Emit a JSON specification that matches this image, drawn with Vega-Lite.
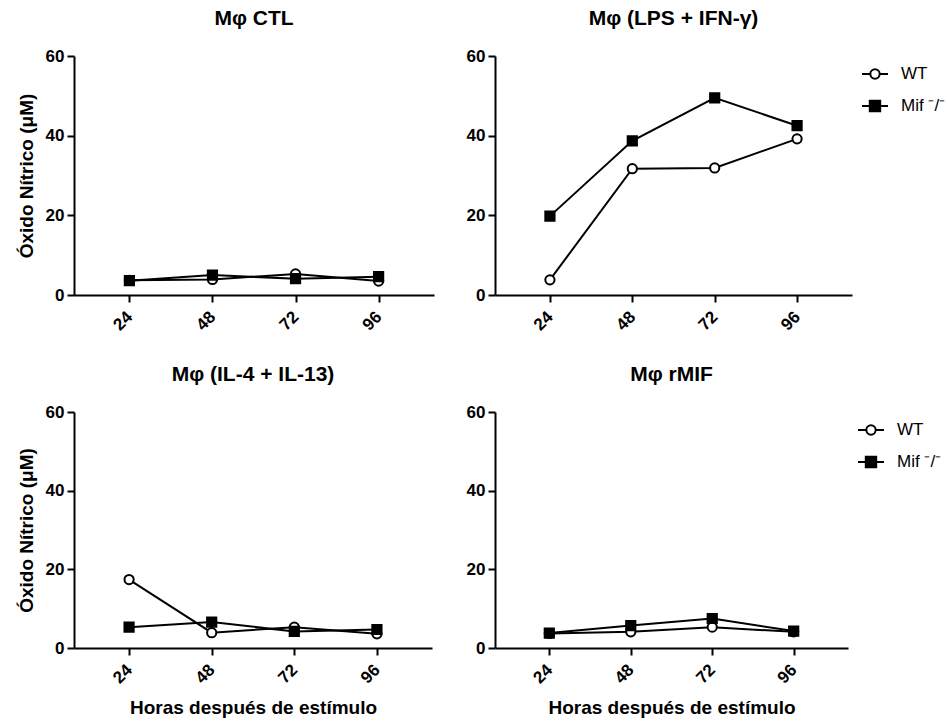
{
  "$schema": "https://vega.github.io/schema/vega-lite/v6.json",
  "padding": {"left": 17, "top": 8, "right": 5, "bottom": 5},
  "background": "white",
  "datasets": {
    "no": [
      {"panel": "CTL", "group": "WT", "hours": 24, "no": 3.7},
      {"panel": "CTL", "group": "WT", "hours": 48, "no": 3.9},
      {"panel": "CTL", "group": "WT", "hours": 72, "no": 5.3},
      {"panel": "CTL", "group": "WT", "hours": 96, "no": 3.5},
      {"panel": "CTL", "group": "Mif", "hours": 24, "no": 3.6},
      {"panel": "CTL", "group": "Mif", "hours": 48, "no": 5.0},
      {"panel": "CTL", "group": "Mif", "hours": 72, "no": 4.1},
      {"panel": "CTL", "group": "Mif", "hours": 96, "no": 4.6},
      {"panel": "LPS", "group": "WT", "hours": 24, "no": 3.8},
      {"panel": "LPS", "group": "WT", "hours": 48, "no": 31.7},
      {"panel": "LPS", "group": "WT", "hours": 72, "no": 31.9},
      {"panel": "LPS", "group": "WT", "hours": 96, "no": 39.2},
      {"panel": "LPS", "group": "Mif", "hours": 24, "no": 19.8},
      {"panel": "LPS", "group": "Mif", "hours": 48, "no": 38.7},
      {"panel": "LPS", "group": "Mif", "hours": 72, "no": 49.5},
      {"panel": "LPS", "group": "Mif", "hours": 96, "no": 42.5},
      {"panel": "IL4", "group": "WT", "hours": 24, "no": 17.4},
      {"panel": "IL4", "group": "WT", "hours": 48, "no": 3.9},
      {"panel": "IL4", "group": "WT", "hours": 72, "no": 5.3},
      {"panel": "IL4", "group": "WT", "hours": 96, "no": 3.6},
      {"panel": "IL4", "group": "Mif", "hours": 24, "no": 5.3},
      {"panel": "IL4", "group": "Mif", "hours": 48, "no": 6.6},
      {"panel": "IL4", "group": "Mif", "hours": 72, "no": 4.2},
      {"panel": "IL4", "group": "Mif", "hours": 96, "no": 4.7},
      {"panel": "rMIF", "group": "WT", "hours": 24, "no": 3.7},
      {"panel": "rMIF", "group": "WT", "hours": 48, "no": 4.1},
      {"panel": "rMIF", "group": "WT", "hours": 72, "no": 5.3},
      {"panel": "rMIF", "group": "WT", "hours": 96, "no": 4.1},
      {"panel": "rMIF", "group": "Mif", "hours": 24, "no": 3.8},
      {"panel": "rMIF", "group": "Mif", "hours": 48, "no": 5.7},
      {"panel": "rMIF", "group": "Mif", "hours": 72, "no": 7.5},
      {"panel": "rMIF", "group": "Mif", "hours": 96, "no": 4.3}
    ]
  },
  "data": {"name": "no"},
  "columns": 2,
  "spacing": {"row": 30, "column": 32},
  "resolve": {
    "scale": {"shape": "independent", "fill": "independent"},
    "legend": {"shape": "independent", "fill": "independent"}
  },
  "concat": [
    {
      "width": 360, "height": 239,
      "title": "Mφ CTL",
      "transform": [{"filter": "datum.panel == 'CTL'"}],
      "layer": [
        {
          "mark": {"type": "line", "color": "black", "strokeWidth": 2},
          "encoding": {
            "x": {"field": "hours", "type": "quantitative", "scale": {"domain": [8, 112], "nice": false}, "axis": {"values": [24, 48, 72, 96], "labelAngle": -45, "labelBaseline": "middle", "labelPadding": 12, "title": null}},
            "y": {"field": "no", "type": "quantitative", "scale": {"domain": [0, 60], "nice": false}, "axis": {"values": [0, 20, 40, 60], "title": "Óxido Nítrico (μM)"}},
            "detail": {"field": "group"}
          }
        },
        {
          "mark": {"type": "point", "filled": true, "stroke": "black", "strokeWidth": 2, "opacity": 1, "size": 85},
          "encoding": {
            "x": {"field": "hours", "type": "quantitative"},
            "y": {"field": "no", "type": "quantitative"},
            "shape": {"field": "group", "type": "nominal", "scale": {"domain": ["Mif", "WT"], "range": ["square", "circle"]}, "legend": null},
            "fill": {"field": "group", "type": "nominal", "scale": {"domain": ["Mif", "WT"], "range": ["black", "white"]}, "legend": null}
          }
        }
      ]
    },
    {
      "width": 357, "height": 239,
      "title": "Mφ (LPS + IFN-γ)",
      "transform": [{"filter": "datum.panel == 'LPS'"}],
      "resolve": {"scale": {"shape": "independent", "fill": "independent"}},
      "layer": [
        {
          "mark": {"type": "line", "color": "black", "strokeWidth": 2},
          "encoding": {
            "x": {"field": "hours", "type": "quantitative", "scale": {"domain": [8, 112], "nice": false}, "axis": {"values": [24, 48, 72, 96], "labelAngle": -45, "labelBaseline": "middle", "labelPadding": 12, "title": null}},
            "y": {"field": "no", "type": "quantitative", "scale": {"domain": [0, 60], "nice": false}, "axis": {"values": [0, 20, 40, 60], "title": null}},
            "detail": {"field": "group"}
          }
        },
        {
          "mark": {"type": "point", "filled": true, "stroke": "black", "strokeWidth": 2, "opacity": 1, "size": 85},
          "encoding": {
            "x": {"field": "hours", "type": "quantitative"},
            "y": {"field": "no", "type": "quantitative"},
            "shape": {"field": "group", "type": "nominal", "scale": {"domain": ["Mif", "WT"], "range": ["square", "circle"]}, "legend": null},
            "fill": {"field": "group", "type": "nominal", "scale": {"domain": ["Mif", "WT"], "range": ["black", "white"]}, "legend": null}
          }
        },
        {
          "mark": {"type": "point", "filled": true, "stroke": "black", "strokeWidth": 2, "opacity": 0, "size": 676},
          "encoding": {
            "x": {"field": "hours", "type": "quantitative"},
            "y": {"field": "no", "type": "quantitative"},
            "shape": {"field": "group", "type": "nominal", "scale": {"domain": ["WT", "Mif"], "range": ["M-1,0L-0.36,0M0.36,0L1,0M0.36,0A0.36,0.36,0,1,1,-0.36,0A0.36,0.36,0,1,1,0.36,0Z", "M-1,0L1,0M-0.4,-0.4L0.4,-0.4L0.4,0.4L-0.4,0.4Z"]},
              "legend": {"title": null, "orient": "right", "offset": 5, "padding": 4, "symbolSize": 676, "symbolOpacity": 1, "symbolStrokeColor": "black", "symbolStrokeWidth": 2, "labelFont": "Liberation Sans", "labelFontSize": 17, "labelColor": "black", "labelOffset": 12, "rowPadding": 9,
                "labelExpr": "datum.value == 'Mif' ? 'Mif ⁻/⁻' : 'WT'",
                "encode": {"labels": {"fontStyle": {"condition": {"test": "datum.value == 'WT'", "value": "normal"}, "value": "italic"}}}}},
            "fill": {"field": "group", "type": "nominal", "scale": {"domain": ["WT", "Mif"], "range": ["white", "black"]},
              "legend": {"title": null, "orient": "right", "offset": 5, "padding": 4, "symbolSize": 676, "symbolOpacity": 1, "symbolStrokeColor": "black", "symbolStrokeWidth": 2, "labelFont": "Liberation Sans", "labelFontSize": 17, "labelColor": "black", "labelOffset": 12, "rowPadding": 9,
                "labelExpr": "datum.value == 'Mif' ? 'Mif ⁻/⁻' : 'WT'",
                "encode": {"labels": {"fontStyle": {"condition": {"test": "datum.value == 'WT'", "value": "normal"}, "value": "italic"}}}}}
          }
        }
      ]
    },
    {
      "width": 358, "height": 236,
      "title": "Mφ (IL-4 + IL-13)",
      "transform": [{"filter": "datum.panel == 'IL4'"}],
      "layer": [
        {
          "mark": {"type": "line", "color": "black", "strokeWidth": 2},
          "encoding": {
            "x": {"field": "hours", "type": "quantitative", "scale": {"domain": [8, 112], "nice": false}, "axis": {"values": [24, 48, 72, 96], "labelAngle": -45, "labelBaseline": "middle", "labelPadding": 12, "title": "Horas después de estímulo", "titlePadding": 12}},
            "y": {"field": "no", "type": "quantitative", "scale": {"domain": [0, 60], "nice": false}, "axis": {"values": [0, 20, 40, 60], "title": "Óxido Nítrico (μM)"}},
            "detail": {"field": "group"}
          }
        },
        {
          "mark": {"type": "point", "filled": true, "stroke": "black", "strokeWidth": 2, "opacity": 1, "size": 85},
          "encoding": {
            "x": {"field": "hours", "type": "quantitative"},
            "y": {"field": "no", "type": "quantitative"},
            "shape": {"field": "group", "type": "nominal", "scale": {"domain": ["Mif", "WT"], "range": ["square", "circle"]}, "legend": null},
            "fill": {"field": "group", "type": "nominal", "scale": {"domain": ["Mif", "WT"], "range": ["black", "white"]}, "legend": null}
          }
        }
      ]
    },
    {
      "width": 353, "height": 236,
      "title": "Mφ rMIF",
      "transform": [{"filter": "datum.panel == 'rMIF'"}],
      "resolve": {"scale": {"shape": "independent", "fill": "independent"}},
      "layer": [
        {
          "mark": {"type": "line", "color": "black", "strokeWidth": 2},
          "encoding": {
            "x": {"field": "hours", "type": "quantitative", "scale": {"domain": [8, 112], "nice": false}, "axis": {"values": [24, 48, 72, 96], "labelAngle": -45, "labelBaseline": "middle", "labelPadding": 12, "title": "Horas después de estímulo", "titlePadding": 12}},
            "y": {"field": "no", "type": "quantitative", "scale": {"domain": [0, 60], "nice": false}, "axis": {"values": [0, 20, 40, 60], "title": null}},
            "detail": {"field": "group"}
          }
        },
        {
          "mark": {"type": "point", "filled": true, "stroke": "black", "strokeWidth": 2, "opacity": 1, "size": 85},
          "encoding": {
            "x": {"field": "hours", "type": "quantitative"},
            "y": {"field": "no", "type": "quantitative"},
            "shape": {"field": "group", "type": "nominal", "scale": {"domain": ["Mif", "WT"], "range": ["square", "circle"]}, "legend": null},
            "fill": {"field": "group", "type": "nominal", "scale": {"domain": ["Mif", "WT"], "range": ["black", "white"]}, "legend": null}
          }
        },
        {
          "mark": {"type": "point", "filled": true, "stroke": "black", "strokeWidth": 2, "opacity": 0, "size": 676},
          "encoding": {
            "x": {"field": "hours", "type": "quantitative"},
            "y": {"field": "no", "type": "quantitative"},
            "shape": {"field": "group", "type": "nominal", "scale": {"domain": ["WT", "Mif"], "range": ["M-1,0L-0.36,0M0.36,0L1,0M0.36,0A0.36,0.36,0,1,1,-0.36,0A0.36,0.36,0,1,1,0.36,0Z", "M-1,0L1,0M-0.4,-0.4L0.4,-0.4L0.4,0.4L-0.4,0.4Z"]},
              "legend": {"title": null, "orient": "right", "offset": 5, "padding": 4, "symbolSize": 676, "symbolOpacity": 1, "symbolStrokeColor": "black", "symbolStrokeWidth": 2, "labelFont": "Liberation Sans", "labelFontSize": 17, "labelColor": "black", "labelOffset": 12, "rowPadding": 9,
                "labelExpr": "datum.value == 'Mif' ? 'Mif ⁻/⁻' : 'WT'",
                "encode": {"labels": {"fontStyle": {"condition": {"test": "datum.value == 'WT'", "value": "normal"}, "value": "italic"}}}}},
            "fill": {"field": "group", "type": "nominal", "scale": {"domain": ["WT", "Mif"], "range": ["white", "black"]},
              "legend": {"title": null, "orient": "right", "offset": 5, "padding": 4, "symbolSize": 676, "symbolOpacity": 1, "symbolStrokeColor": "black", "symbolStrokeWidth": 2, "labelFont": "Liberation Sans", "labelFontSize": 17, "labelColor": "black", "labelOffset": 12, "rowPadding": 9,
                "labelExpr": "datum.value == 'Mif' ? 'Mif ⁻/⁻' : 'WT'",
                "encode": {"labels": {"fontStyle": {"condition": {"test": "datum.value == 'WT'", "value": "normal"}, "value": "italic"}}}}}
          }
        }
      ]
    }
  ],
  "config": {
    "view": {"stroke": null},
    "font": "Liberation Sans",
    "title": {"font": "Liberation Sans", "fontSize": 21, "fontWeight": "bold", "color": "black", "anchor": "middle", "offset": 18},
    "axis": {
      "grid": false,
      "domainColor": "black", "domainWidth": 2,
      "tickColor": "black", "tickWidth": 2, "tickSize": 7,
      "labelFont": "Liberation Sans", "labelFontSize": 17, "labelFontWeight": "bold", "labelColor": "black", "labelPadding": 3,
      "titleFont": "Liberation Sans", "titleFontSize": 19, "titleFontWeight": "bold", "titleColor": "black", "titlePadding": 9
    }
  }
}
